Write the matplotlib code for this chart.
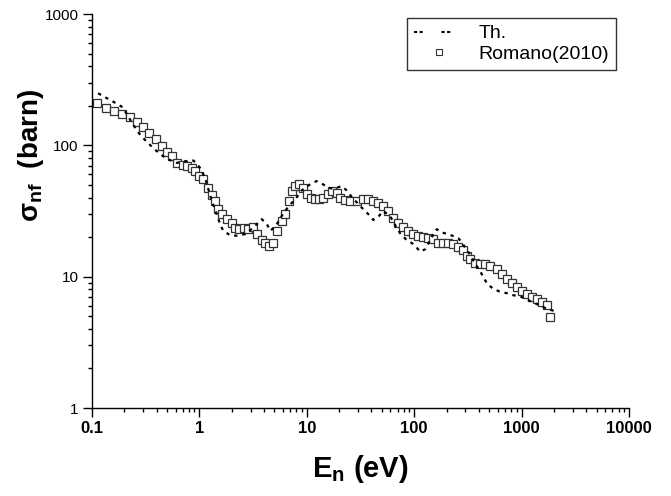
import matplotlib
matplotlib.use("Agg")
import matplotlib.pyplot as plt
from matplotlib.lines import Line2D
from matplotlib.ticker import FixedLocator, FixedFormatter, LogLocator, NullFormatter

plt.rcParams['font.family'] = ['Liberation Sans', 'DejaVu Sans']
plt.rcParams['mathtext.fontset'] = 'custom'
plt.rcParams['mathtext.rm'] = 'Liberation Sans'
plt.rcParams['mathtext.bf'] = 'Liberation Sans:bold'

# Theory curve (dashed)
th_E = [0.114, 0.137, 0.164, 0.193, 0.234, 0.266, 0.311, 0.368, 0.43, 0.496,
        0.616, 0.76, 0.88, 1.0, 1.13, 1.25, 1.35, 1.45, 1.56, 1.67,
        1.93, 2.22, 2.67, 3.17, 3.8, 4.2, 4.6, 5.3, 6.0, 6.8,
        7.8, 9.0, 10.7, 12.3, 14.2, 15.9, 17.0, 19.0, 21.1, 23.5,
        26.5, 30.3, 33.6, 37.4, 41.6, 47.0, 51.6, 59.6, 66, 74.6,
        83.6, 98, 105, 114, 127, 143, 162, 181, 210, 240,
        258, 278, 300, 331, 370, 410, 440, 480, 543, 625,
        720, 823, 1000, 1160, 1380, 1710, 1990]
th_sig = [249, 229, 211, 195, 150, 127, 110, 96, 86, 79,
          73.5, 76, 76.6, 68.5, 56.5, 42.3, 35, 29.9, 25.1, 22.3,
          20.7, 20.5, 21.1, 23.6, 27.4, 25.5, 22.3, 25.4, 30, 34.5,
          38.8, 45.5, 50.4, 53.4, 50.4, 47.5, 47.0, 47.5, 48.9, 45.4,
          40, 35.6, 32.6, 29.9, 27, 29, 31.6, 29, 25, 21.1,
          19.3, 17.7, 16.7, 15.5, 16.2, 19.5, 23, 21.7, 21, 20.1,
          19.6, 18.2, 16.5, 14.7, 12.5, 11.1, 9.9, 8.8, 8.1, 7.7,
          7.5, 7.25, 7.0, 6.6, 6.2, 5.7, 5.5]

# Romano (2010) data (open squares)
exp_E = [0.111, 0.135, 0.160, 0.191, 0.226, 0.264, 0.30, 0.34, 0.394, 0.446,
         0.496, 0.552, 0.622, 0.698, 0.761, 0.848, 0.91, 1.0, 1.09, 1.19,
         1.30, 1.40, 1.50, 1.61, 1.80, 2.0, 2.14, 2.35, 2.60, 2.85,
         3.18, 3.41, 3.80, 4.08, 4.48, 4.82, 5.31, 5.84, 6.27, 6.88,
         7.23, 7.76, 8.46, 9.16, 9.98, 10.9, 11.9, 13.1, 14.2, 15.9,
         17.3, 19.0, 20.4, 22.7, 25.2, 29.2, 33.6, 37.4, 41.6, 46.5,
         51.6, 57.4, 63.9, 71.1, 79.2, 88.1, 98.1, 109, 122, 135,
         151, 168, 187, 208, 231, 258, 287, 308, 331, 368,
         410, 456, 508, 586, 653, 727, 809, 900, 1002, 1115,
         1241, 1382, 1538, 1713, 1838]
exp_sig = [209, 194, 183, 173, 163, 150, 139, 124, 112, 98,
           89, 83, 73, 71, 69, 67, 64, 58, 55, 47.5,
           42, 37.6, 32.6, 29.9, 27.4, 25.4, 23.6, 23.0, 23.6, 23.2,
           23.9, 21.1, 19.0, 17.9, 17.2, 18.2, 22.3, 26.6, 29.9, 37.6,
           44.9, 48.9, 50.4, 47.5, 42.3, 39.9, 38.8, 38.8, 39.9, 42.3,
           44.9, 43.5, 39.9, 38.1, 37.6, 37.6, 38.8, 38.8, 37.6, 36.5,
           34.5, 31.6, 28.1, 25.8, 23.9, 22.3, 21.1, 20.5, 20.1, 19.8,
           19.3, 18.2, 17.9, 18.2, 17.7, 16.7, 15.9, 14.4, 13.6, 12.8,
           12.5, 12.5, 12.1, 11.4, 10.5, 9.6, 8.9, 8.3, 7.8, 7.4,
           7.05, 6.8, 6.4, 6.1, 4.9]

x_ticks = [0.1, 1, 10, 100, 1000, 10000]
x_labels = ["0.1", "1", "10", "100", "1000", "10000"]
y_ticks = [1, 10, 100, 1000]
y_labels = ["1", "10", "100", "1000"]

fig = plt.figure(figsize=(6.71, 4.96), dpi=100)
ax = fig.add_axes([92 / 671, 88 / 496, 537 / 671, 394 / 496])

ax.plot(exp_E, exp_sig, linestyle='none', marker='s', markersize=6.2,
        markerfacecolor='white', markeredgecolor='#333333', markeredgewidth=0.9,
        zorder=2)
ax.plot(th_E, th_sig, color='black', linewidth=1.6, linestyle=(0, (1.5, 2.2)),
        zorder=3)

ax.set_xscale('log')
ax.set_yscale('log')
ax.set_xlim(0.1, 10000)
ax.set_ylim(1, 1000)

ax.xaxis.set_major_locator(FixedLocator(x_ticks))
ax.xaxis.set_major_formatter(FixedFormatter(x_labels))
ax.yaxis.set_major_locator(FixedLocator(y_ticks))
ax.yaxis.set_major_formatter(FixedFormatter(y_labels))
ax.xaxis.set_minor_locator(LogLocator(base=10, subs=range(2, 10), numticks=20))
ax.yaxis.set_minor_locator(LogLocator(base=10, subs=range(2, 10), numticks=20))
ax.xaxis.set_minor_formatter(NullFormatter())
ax.yaxis.set_minor_formatter(NullFormatter())

for s in ['top', 'right']:
    ax.spines[s].set_visible(False)
for s in ['left', 'bottom']:
    ax.spines[s].set_linewidth(1.0)

ax.tick_params(which='major', direction='out', length=6.5, width=1.0)
ax.tick_params(which='minor', direction='out', length=3.2, width=1.0)
ax.tick_params(axis='y', which='major', labelsize=11, pad=3)
ax.tick_params(axis='x', which='major', labelsize=12, pad=3)
for lab in ax.get_xticklabels():
    lab.set_fontweight('bold')

ax.set_xlabel(r'E$_{\mathbf{n}}$ (eV)', fontsize=21, fontweight='bold')
ax.set_ylabel(r'σ$_{\mathbf{nf}}$  (barn)', fontsize=20, fontweight='bold')
ax.xaxis.set_label_coords(0.5, -0.115)
ax.yaxis.set_label_coords(-0.085, 0.64)

h_th = Line2D([], [], color='black', linewidth=1.5,
              linestyle=(0, (1.5, 1.2, 1.5, 9)))
h_exp = Line2D([], [], linestyle='none', marker='s', markersize=5,
               markerfacecolor='white', markeredgecolor='#333333',
               markeredgewidth=0.8)
leg = ax.legend([h_th, h_exp], ['Th.', 'Romano(2010)'], loc='upper right',
                bbox_to_anchor=(0.975, 0.99), fontsize=14, frameon=True,
                fancybox=False, edgecolor='black', handlelength=2.6,
                handletextpad=0.7, borderpad=0.35, labelspacing=0.15,
                borderaxespad=0.0)
leg.get_frame().set_linewidth(1.0)

fig.savefig("out.png", dpi=100)
